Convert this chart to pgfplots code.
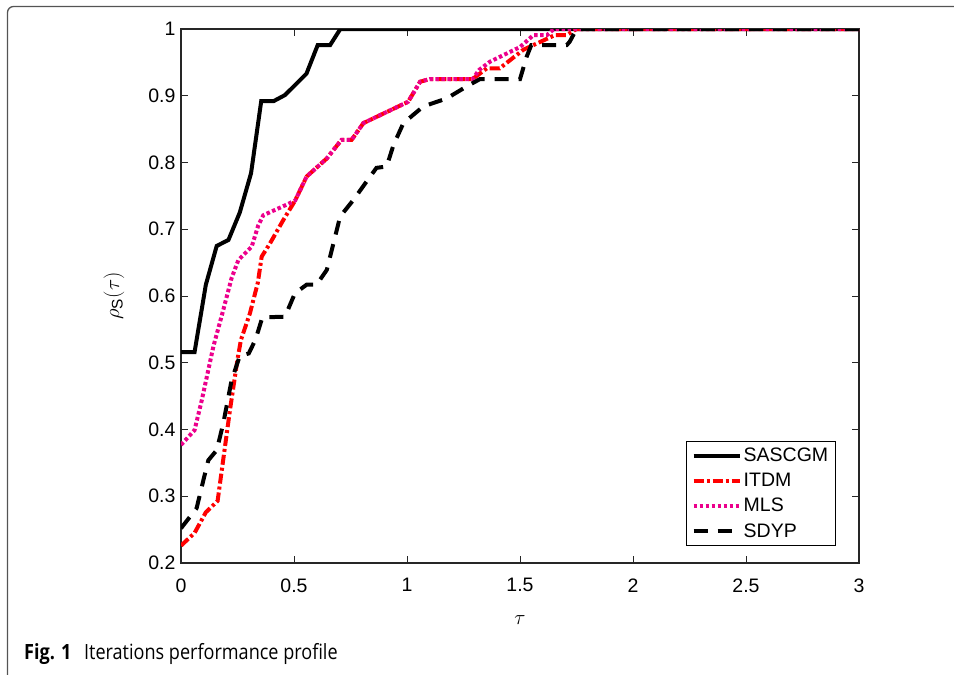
\documentclass[border=0pt]{standalone}
\usepackage{amsmath}
\usepackage{fontspec}
\setmainfont{Liberation Sans}
\newfontfamily\capfont[FakeStretch=0.86]{Open Sans}
\usepackage{pgfplots}
\pgfplotsset{compat=1.18}

\definecolor{axgray}{gray}{0.15}
\definecolor{framegray}{gray}{0.33}

\pgfplotstableread{
x y
0 0.516
0.06 0.516
0.11 0.617
0.158 0.675
0.21 0.684
0.26 0.725
0.31 0.784
0.355 0.892
0.41 0.892
0.46 0.901
0.555 0.933
0.605 0.976
0.66 0.976
0.705 1
3 1
}\sascgm

\pgfplotstableread{
x y
0 0.226
0.06 0.245
0.11 0.276
0.162 0.293
0.217 0.43
0.25 0.505
0.265 0.534
0.305 0.574
0.34 0.62
0.357 0.659
0.394 0.679
0.453 0.714
0.505 0.743
0.556 0.779
0.645 0.806
0.71 0.834
0.755 0.834
0.807 0.859
1.005 0.891
1.058 0.921
1.10 0.925
1.29 0.925
1.353 0.941
1.41 0.941
1.515 0.969
1.56 0.976
1.655 0.991
1.707 0.991
1.75 1
3 1
}\itdm

\pgfplotstableread{
x y
0 0.377
0.06 0.399
0.092 0.444
0.143 0.524
0.187 0.579
0.224 0.627
0.254 0.654
0.313 0.674
0.342 0.706
0.364 0.721
0.475 0.738
0.505 0.743
0.556 0.779
0.645 0.806
0.71 0.834
0.755 0.834
0.807 0.859
1.005 0.891
1.058 0.921
1.10 0.925
1.29 0.925
1.32 0.939
1.367 0.951
1.5 0.973
1.56 0.991
1.62 0.991
1.65 1
3 1
}\mls

\pgfplotstableread{
x y
0 0.252
0.069 0.282
0.099 0.324
0.121 0.354
0.158 0.369
0.187 0.409
0.224 0.474
0.26 0.51
0.30 0.514
0.33 0.535
0.36 0.568
0.46 0.569
0.504 0.604
0.556 0.617
0.60 0.617
0.645 0.639
0.704 0.719
0.763 0.744
0.82 0.771
0.865 0.792
0.91 0.794
0.94 0.826
0.984 0.859
1.072 0.884
1.176 0.896
1.264 0.914
1.323 0.925
1.5 0.925
1.53 0.959
1.55 0.976
1.707 0.976
1.72 0.981
1.75 1
3 1
}\sdyp

\begin{document}
\begin{tikzpicture}[x=1pt,y=1pt]
\begin{axis}[
  at={(181pt,-563pt)}, anchor=south west,
  scale only axis, width=678pt, height=534pt,
  xmin=0, xmax=3, ymin=0.2, ymax=1,
  xtick={0,0.5,1,1.5,2,2.5,3},
  ytick={0.2,0.3,0.4,0.5,0.6,0.7,0.8,0.9,1},
  tick align=inside, major tick length=7pt,
  axis line style={axgray, line width=1.1pt},
  tick style={axgray, line width=1pt},
  /pgf/number format/assume math mode=true,
  ticklabel style={font=\fontsize{19.5}{22}\selectfont},
  xticklabel style={yshift=-12pt},
  yticklabel style={xshift=-2pt},
  label style={font=\fontsize{22}{26}\selectfont},
  xlabel={$\tau$}, ylabel={$\rho_{\text{S}}(\tau)$},
  xlabel style={at={(axis description cs:0.5,-0.107)}, anchor=center},
  ylabel style={at={(axis description cs:-0.099,0.5)}, anchor=center},
  legend style={at={(axis description cs:0.9656,0.0318)}, anchor=south east,
    draw=black, line width=0.9pt, font=\fontsize{19.5}{22}\selectfont,
    inner xsep=5pt, inner ysep=5pt, row sep=6pt},
  legend cell align=left,
  legend image code/.code={\draw[#1] (0pt,0pt) -- (46pt,0pt);},
]
\addplot[black, line width=4pt] table {\sascgm};
\addlegendentry{SASCGM}
\addplot[red, line width=4pt, dash pattern=on 10pt off 3pt on 3pt off 3pt] table {\itdm};
\addlegendentry{ITDM}
\addplot[magenta, line width=4pt, dash pattern=on 3.5pt off 2.5pt] table {\mls};
\addlegendentry{MLS}
\addplot[black, line width=4pt, dash pattern=on 14pt off 10pt] table {\sdyp};
\addlegendentry{SDYP}
\end{axis}
\draw[framegray, line width=1.3pt, rounded corners=6pt] (7.5,-675) -- (7.5,-6.5) -- (954,-6.5);
\node[anchor=base west, inner sep=0pt, font=\capfont\fontsize{21}{25}\selectfont] at (24,-659)
  {\textbf{Fig. 1}\hspace{0.6em}Iterations performance profile};
\pgfresetboundingbox
\path[use as bounding box] (0,0) rectangle (954,-675);
\end{tikzpicture}
\end{document}
